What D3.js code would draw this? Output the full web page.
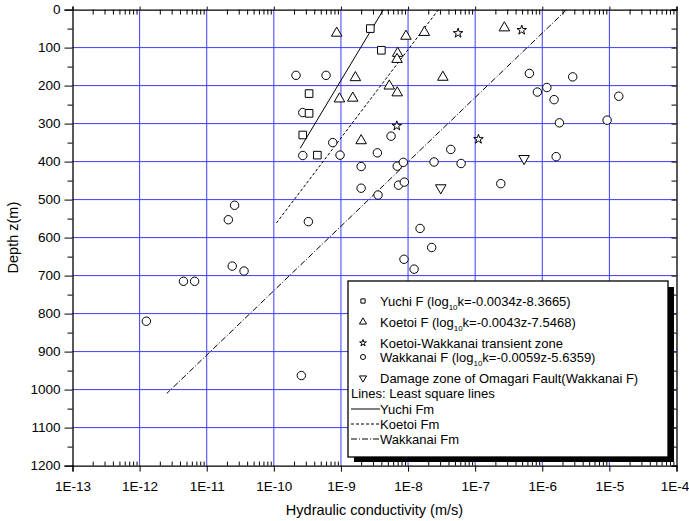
<!DOCTYPE html>
<html><head><meta charset="utf-8">
<script src="https://cdn.jsdelivr.net/npm/d3@7"></script>
<style>
body{margin:0;background:#fff}
svg{display:block}
text{font-family:"Liberation Sans",Arial,sans-serif;fill:#000}
</style>
</head><body>
<svg id="c" width="689" height="521"></svg>
<script>
// ---- data (hydraulic conductivity k in m/s, depth z in m) ----
const yuchiK = [2.74e-9, 4.0e-9, 3.35e-10, 3.35e-10, 2.7e-10, 4.45e-10];
const yuchiZ = [50, 107, 221, 273, 330, 383];

const koetoiK = [8.65e-10, 9.3e-9, 1.75e-8, 7.0e-9, 6.85e-9, 1.64e-9, 3.3e-8, 5.25e-9, 6.9e-9, 9.5e-10, 1.5e-9, 2.0e-9, 2.72e-7];
const koetoiZ = [62, 70, 60, 115, 131, 179, 178, 201, 219, 235, 233, 345, 48];

const transK = [5.56e-8, 6.8e-9, 1.12e-7, 4.94e-7];
const transZ = [62, 306, 341, 54];

const wakkanaiK = [2.14e-10, 6.0e-10, 2.7e-10, 7.55e-10, 5.58e-9, 2.7e-10, 9.7e-10, 3.49e-9, 4.33e-8, 2.0e-9,
  6.9e-9, 8.5e-9, 2.44e-8, 6.17e-8, 2.0e-9, 7.2e-9, 8.8e-9, 3.57e-9, 3.27e-10, 1.51e-8,
  2.25e-8, 8.7e-9, 1.23e-8, 2.57e-10, 6.43e-7, 2.84e-6, 1.17e-6, 8.45e-7, 1.5e-6, 1.38e-5,
  1.8e-6, 9.25e-6, 1.61e-6, 2.41e-7, 1.26e-12, 4.5e-12, 6.6e-12, 2.4e-11, 3.6e-11, 2.1e-11, 2.6e-11];
const wakkanaiZ = [173, 173, 271, 350, 333, 384, 383, 377, 368, 413,
  412, 402, 401, 405, 470, 462, 454, 488, 558, 576,
  626, 657, 683, 963, 168, 177, 205, 217, 237, 228,
  298, 291, 387, 458, 820, 715, 715, 675, 688, 553, 515];

const damageK = [5.36e-7, 3.07e-8];
const damageZ = [392, 469];

// least-square lines: log10k = slope*z + intercept, drawn over depth range
const lineNames = ["Yuchi Fm", "Koetoi Fm", "Wakkanai Fm"];
const lineSlope = [-0.0034, -0.0043, -0.0059];
const lineIntercept = [-8.3665, -7.5468, -5.6359];
const lineZmax = [365, 565, 1010];
const lineDash = [null, "3,2", "6,2,1,2"];

const xTickLabels = ["1E-13","1E-12","1E-11","1E-10","1E-9","1E-8","1E-7","1E-6","1E-5","1E-4"];
const yTicks = [0,100,200,300,400,500,600,700,800,900,1000,1100,1200];

// ---- layout ----
const L = 72.5, R = 676.5, T = 9.6, B = 465.6;
const svg = d3.select("#c");
const x = d3.scaleLog().domain([1e-13, 1e-4]).range([L, R]);
const y = d3.scaleLinear().domain([0, 1200]).range([T, B]);
const decades = d3.range(-13, -3).map(e => Math.pow(10, e));
const minors = [];
decades.slice(0, -1).forEach(d => { for (let m = 2; m <= 9; m++) minors.push(d * m); });
const yMinor = d3.range(50, 1200, 100);

// grid
const grid = svg.append("g").attr("stroke", "#3c3cff").attr("stroke-width", 1);
decades.slice(1, -1).forEach(d => grid.append("line").attr("x1", x(d)).attr("x2", x(d)).attr("y1", T).attr("y2", B));
yTicks.slice(1, -1).forEach(v => grid.append("line").attr("x1", L).attr("x2", R).attr("y1", y(v)).attr("y2", y(v)));

// axes
const fmt = (d, i) => xTickLabels[i];
svg.append("g").attr("transform", `translate(0,${B})`)
  .call(d3.axisBottom(x).tickValues(decades).tickFormat(fmt).tickSize(6).tickPadding(10))
  .call(g => g.selectAll("text").attr("font-size", 13.5))
  .call(g => g.selectAll("text").filter((d, i) => i === decades.length - 1).attr("dx", -2));
svg.append("g").attr("transform", `translate(0,${B})`)
  .call(d3.axisBottom(x).tickValues(minors).tickFormat("").tickSize(-4).tickSizeOuter(0))
  .call(g => g.select(".domain").remove());
svg.append("g").attr("transform", `translate(0,${T})`)
  .call(d3.axisTop(x).tickValues(decades).tickFormat("").tickSize(3));
svg.append("g").attr("transform", `translate(0,${T})`)
  .call(d3.axisTop(x).tickValues(minors).tickFormat("").tickSize(-5).tickSizeOuter(0))
  .call(g => g.select(".domain").remove());
svg.append("g").attr("transform", `translate(${L},0)`)
  .call(d3.axisLeft(y).tickValues(yTicks).tickFormat(d3.format("d")).tickSize(8).tickPadding(4))
  .call(g => g.selectAll("text").attr("font-size", 13.5));
svg.append("g").attr("transform", `translate(${L},0)`)
  .call(d3.axisLeft(y).tickValues(yMinor).tickFormat("").tickSize(5).tickSizeOuter(0))
  .call(g => g.select(".domain").remove());
svg.append("g").attr("transform", `translate(${R},0)`)
  .call(d3.axisRight(y).tickValues(yTicks.concat(yMinor)).tickFormat("").tickSize(-5));
svg.selectAll(".domain").attr("stroke-width", 1.3);

// axis titles
svg.append("text").attr("x", (L + R) / 2).attr("y", 515).attr("text-anchor", "middle")
  .attr("font-size", 14.5).text("Hydraulic conductivity (m/s)");
svg.append("text").attr("transform", `translate(18,${(T + B) / 2}) rotate(-90)`).attr("text-anchor", "middle")
  .attr("font-size", 14.5).text("Depth z(m)");

// least-square lines
svg.append("clipPath").attr("id", "clip").append("rect").attr("x", L).attr("y", T).attr("width", R - L).attr("height", B - T);
const lines = svg.append("g").attr("clip-path", "url(#clip)");
lineNames.forEach((n, i) => {
  const zs = [0, lineZmax[i]];
  const ln = d3.line().x(z => x(Math.pow(10, lineSlope[i] * z + lineIntercept[i]))).y(z => y(z));
  lines.append("path").attr("d", ln(zs)).attr("fill", "none").attr("stroke", "#000").attr("stroke-width", 1)
    .attr("stroke-dasharray", lineDash[i]);
});

// points
function pts(K, Z, type, size, rot) {
  const sym = d3.symbol().type(type).size(size);
  svg.append("g").selectAll("path").data(K.map((k, i) => [k, Z[i]])).join("path")
    .attr("d", sym)
    .attr("transform", d => `translate(${x(d[0])},${y(d[1])})` + (rot ? " rotate(180)" : ""))
    .attr("fill", "#fff").attr("stroke", "#000").attr("stroke-width", 1);
}
pts(wakkanaiK, wakkanaiZ, d3.symbolCircle, 56);
pts(yuchiK, yuchiZ, d3.symbolSquare, 58);
pts(koetoiK, koetoiZ, d3.symbolTriangle, 48);
pts(transK, transZ, d3.symbolStar, 28);
pts(damageK, damageZ, d3.symbolTriangle, 48, true);

// legend
const lg = svg.append("g");
lg.append("rect").attr("x", 354).attr("y", 287).attr("width", 320).attr("height", 175).attr("fill", "#000");
lg.append("rect").attr("x", 348).attr("y", 281).attr("width", 320).attr("height", 176)
  .attr("fill", "#fff").attr("stroke", "#000").attr("stroke-width", 1.3);
const legSym = [d3.symbolSquare, d3.symbolTriangle, d3.symbolStar, d3.symbolCircle, d3.symbolTriangle];
const legSize = [18, 22, 14, 20, 22];
const legY = [301, 322, 343, 357, 378];
const legText = [
  ["Yuchi F (log", "10", "k=-0.0034z-8.3665)"],
  ["Koetoi F (log", "10", "k=-0.0043z-7.5468)"],
  ["Koetoi-Wakkanai transient zone"],
  ["Wakkanai F (log", "10", "k=-0.0059z-5.6359)"],
  ["Damage zone of Omagari Fault(Wakkanai F)"]
];
legSym.forEach((s, i) => {
  lg.append("path").attr("d", d3.symbol().type(s).size(legSize[i]))
    .attr("transform", `translate(363,${legY[i]})` + (i === 4 ? " rotate(180)" : ""))
    .attr("fill", "#fff").attr("stroke", "#000").attr("stroke-width", 1);
  const t = lg.append("text").attr("x", 380).attr("y", legY[i]).attr("dy", "0.35em").attr("font-size", 13);
  t.append("tspan").text(legText[i][0]);
  if (legText[i].length > 1) {
    t.append("tspan").attr("dy", 4).attr("font-size", 8).text(legText[i][1]);
    t.append("tspan").attr("dy", -4).text(legText[i][2]);
  }
});
lg.append("text").attr("x", 351).attr("y", 393).attr("dy", "0.35em").attr("font-size", 13).text("Lines: Least square lines");
const lineLegY = [409, 424, 439];
lineNames.forEach((n, i) => {
  lg.append("line").attr("x1", 351).attr("x2", 380).attr("y1", lineLegY[i]).attr("y2", lineLegY[i])
    .attr("stroke", "#000").attr("stroke-width", 1).attr("stroke-dasharray", lineDash[i]);
  lg.append("text").attr("x", 380).attr("y", lineLegY[i]).attr("dy", "0.35em").attr("font-size", 13).text(n);
});
</script>
</body></html>
